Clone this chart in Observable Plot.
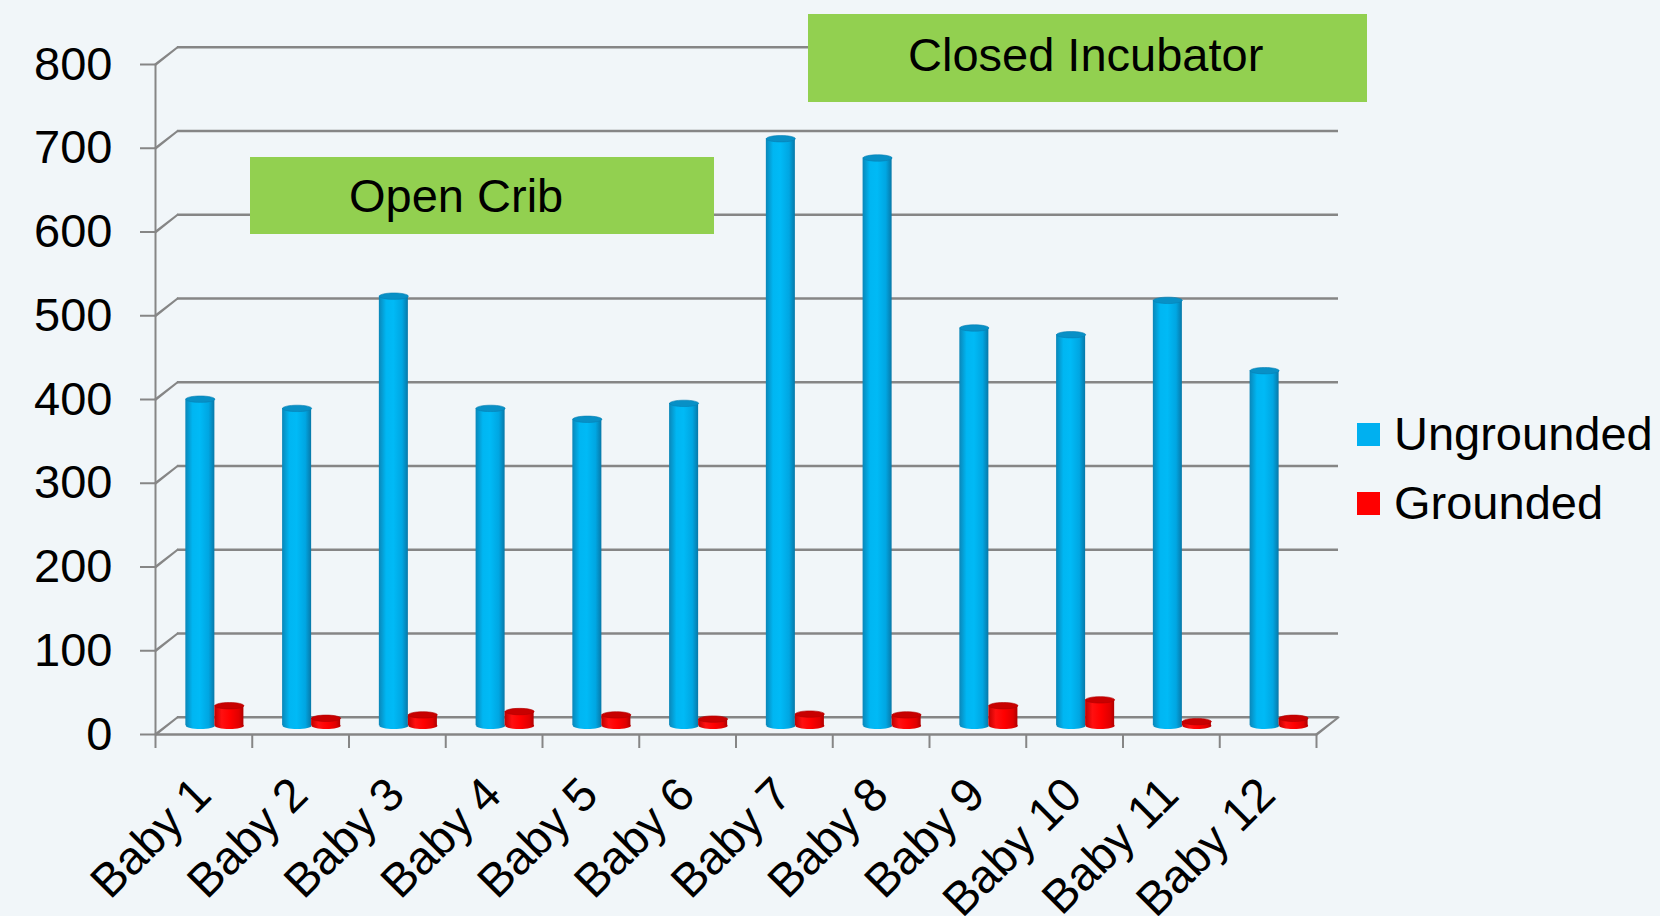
<!DOCTYPE html>
<html>
<head>
<meta charset="utf-8">
<script src="https://cdn.jsdelivr.net/npm/d3@7"></script>
<script src="https://cdn.jsdelivr.net/npm/@observablehq/plot@0.6"></script>
<style>
  html, body { margin: 0; padding: 0; background: #F1F6F9; }
  #wrap { position: relative; width: 1660px; height: 916px; overflow: hidden; font-family: "Liberation Sans", Arial, sans-serif; }
  #chart { position: absolute; left: 0; top: 0; }
  .box { position: absolute; background: #92D050; color: #000; font-size: 47px; }
  .box span { position: absolute; white-space: nowrap; }
  .leg { position: absolute; font-size: 47px; white-space: nowrap; }
</style>
</head>
<body>
<div id="wrap">
  <div id="chart"></div>
  <div class="box" style="left:250px; top:157px; width:464px; height:77px;"><span style="left:99px; top:11px;">Open Crib</span></div>
  <div class="box" style="left:808px; top:14px; width:559px; height:88px;"><span style="left:100px; top:13px;">Closed Incubator</span></div>
  <div id="legend"></div>
</div>
<script>
const categories = ["Baby 1","Baby 2","Baby 3","Baby 4","Baby 5","Baby 6","Baby 7","Baby 8","Baby 9","Baby 10","Baby 11","Baby 12"];
const ungrounded = [390, 379, 513, 379, 366, 385, 701, 678, 475, 467, 508, 424];
const grounded   = [24, 9, 13, 17, 13, 8, 14, 13, 24, 31, 5, 9];
const yTicks = [0, 100, 200, 300, 400, 500, 600, 700, 800];
const seriesNames = ["Ungrounded", "Grounded"];
const seriesColors = ["#00B0F0", "#FF0000"];

const rows = [];
categories.forEach((c, i) => {
  rows.push({i, cat: c, series: seriesNames[0], value: ungrounded[i], k: 0});
  rows.push({i, cat: c, series: seriesNames[1], value: grounded[i], k: 1});
});
const blue = rows.filter(d => d.k === 0);
const red = rows.filter(d => d.k === 1);

function ellipse(rx, ry) {
  const k = 0.5523;
  return {draw(ctx) {
    ctx.moveTo(rx, 0);
    ctx.bezierCurveTo(rx, ry * k, rx * k, ry, 0, ry);
    ctx.bezierCurveTo(-rx * k, ry, -rx, ry * k, -rx, 0);
    ctx.bezierCurveTo(-rx, -ry * k, -rx * k, -ry, 0, -ry);
    ctx.bezierCurveTo(rx * k, -ry, rx, -ry * k, rx, 0);
    ctx.closePath();
  }};
}
const cap = ellipse(14.5, 3.2);
const DX = 11, DY = -8.7;     // half-depth shift of the bar row
const grid = "#868686";

const plot = Plot.plot({
  width: 1660,
  height: 916,
  marginLeft: 155,
  marginRight: 344,
  marginTop: 64,
  marginBottom: 182,
  style: {fontFamily: "'Liberation Sans', Arial, sans-serif", fontSize: "47px", background: "transparent", color: "#000", overflow: "visible"},
  x: {type: "linear", domain: [0, 12], label: null},
  y: {domain: [0, 800], label: null},
  marks: [
    // back wall gridlines
    Plot.ruleY(yTicks, {stroke: grid, strokeWidth: 2.4, dx: 22, dy: -17.3}),
    // diagonal depth lines from the front axis to the back wall
    Plot.vector(yTicks, {x: 0, y: d => d, length: 28, rotate: 52, anchor: "start", shape: "spike", r: 0.4, stroke: grid, strokeWidth: 2, fill: "none"}),
    Plot.vector([0], {x: 12, y: d => d, length: 28, rotate: 52, anchor: "start", shape: "spike", r: 0.4, stroke: grid, strokeWidth: 2, fill: "none"}),
    // front axis and floor edge
    Plot.ruleX([0], {y1: 0, y2: 800, stroke: grid, strokeWidth: 2}),
    Plot.ruleY([0], {stroke: grid, strokeWidth: 2.4}),
    // category ticks
    Plot.axisX(d3.range(0, 13), {tickSize: 14, tickFormat: () => "", stroke: grid, strokeWidth: 2, label: null}),
    // category labels
    Plot.axisX(d3.range(12).map(i => i + 0.5), {tickSize: 0, tickPadding: 52, tickRotate: -45, tickFormat: v => categories[Math.floor(v)], fontSize: 47, fill: "#000", dx: -1, label: null}),
    // value axis
    Plot.axisY(yTicks, {tickSize: 15, tickPadding: 28, fontSize: 47, stroke: grid, strokeWidth: 2, fill: "#000", label: null}),
    // cylinder bottoms
    Plot.dot(blue, {x: d => d.i + 0.35, y: 0, symbol: cap, fill: "url(#gBlue)", stroke: "none", dx: DX, dy: DY}),
    Plot.dot(red, {x: d => d.i + 0.65, y: 0, symbol: cap, fill: "url(#gRed)", stroke: "none", dx: DX, dy: DY}),
    // cylinder bodies
    Plot.rectY(blue, {x1: d => d.i + 0.2, x2: d => d.i + 0.5, y: "value", fill: "url(#gBlue)", dx: DX, dy: DY}),
    Plot.rectY(red, {x1: d => d.i + 0.5, x2: d => d.i + 0.8, y: "value", fill: "url(#gRed)", dx: DX, dy: DY}),
    // cylinder tops
    Plot.dot(blue, {x: d => d.i + 0.35, y: "value", symbol: cap, fill: "#0890C6", stroke: "#0680b4", strokeWidth: 0.6, dx: DX, dy: DY}),
    Plot.dot(red, {x: d => d.i + 0.65, y: "value", symbol: cap, fill: "#C80000", stroke: "#b00000", strokeWidth: 0.6, dx: DX, dy: DY})
  ]
});

const defs = `
<defs>
  <linearGradient id="gBlue" x1="0" x2="1" y1="0" y2="0">
    <stop offset="0" stop-color="#0A86B8"/>
    <stop offset="0.25" stop-color="#00B6F2"/>
    <stop offset="0.5" stop-color="#00BAF6"/>
    <stop offset="0.8" stop-color="#00A6E2"/>
    <stop offset="1" stop-color="#0878A8"/>
  </linearGradient>
  <linearGradient id="gRed" x1="0" x2="1" y1="0" y2="0">
    <stop offset="0" stop-color="#C00000"/>
    <stop offset="0.25" stop-color="#FF1010"/>
    <stop offset="0.55" stop-color="#FF0000"/>
    <stop offset="0.85" stop-color="#E00000"/>
    <stop offset="1" stop-color="#B00000"/>
  </linearGradient>
</defs>`;
plot.insertAdjacentHTML("afterbegin", defs);
document.getElementById("chart").appendChild(plot);

const legend = document.getElementById("legend");
const legTops = [423, 492];
seriesNames.forEach((name, j) => {
  const sw = document.createElement("i");
  sw.style.cssText = `position:absolute; left:1357px; top:${legTops[j]}px; width:23px; height:23px; background:${seriesColors[j]};`;
  legend.appendChild(sw);
  const t = document.createElement("div");
  t.className = "leg";
  t.style.left = "1394px";
  t.style.top = (legTops[j] - 17) + "px";
  t.textContent = name;
  legend.appendChild(t);
});
</script>
</body>
</html>
